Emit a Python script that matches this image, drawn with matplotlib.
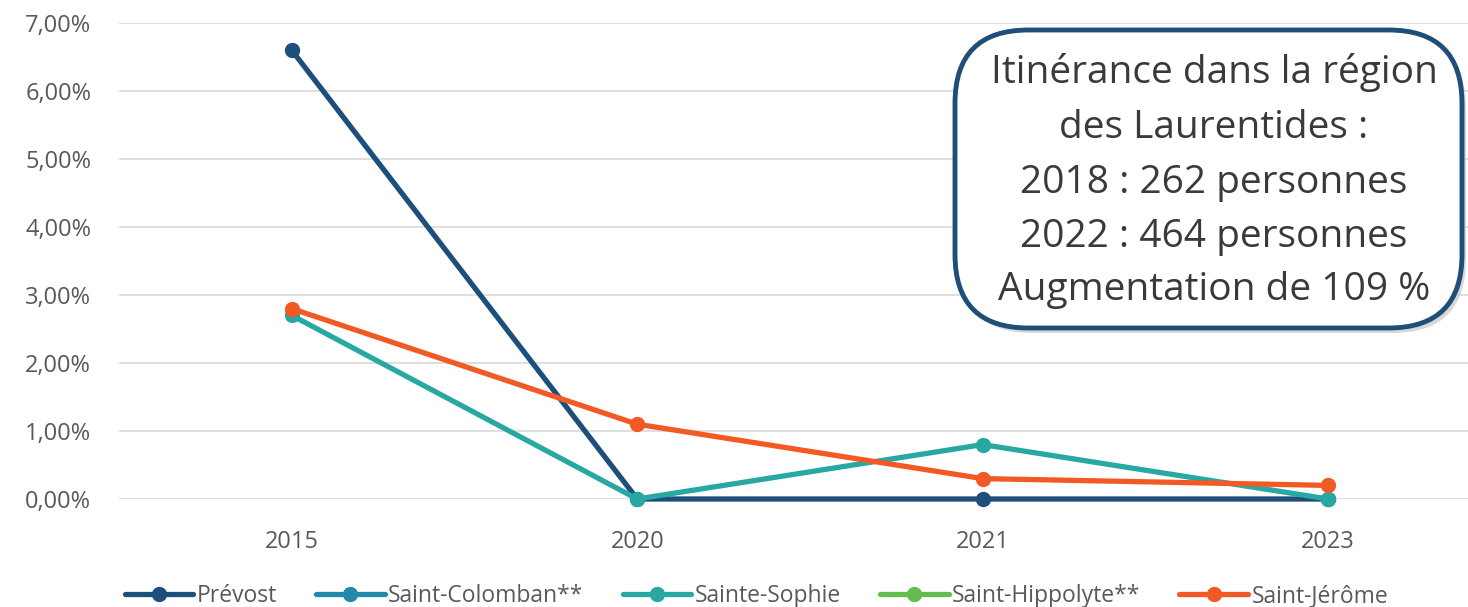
import matplotlib
matplotlib.use("Agg")
import matplotlib.pyplot as plt
import numpy as np
from matplotlib.patches import FancyBboxPatch
from matplotlib.ticker import FuncFormatter

years = ["2015", "2020", "2021", "2023"]
prevost = [6.6, 0.0, 0.0, 0.0]
saint_colomban = [np.nan, np.nan, np.nan, np.nan]
sainte_sophie = [2.7, 0.0, 0.8, 0.0]
saint_hippolyte = [np.nan, np.nan, np.nan, np.nan]
saint_jerome = [2.8, 1.1, 0.3, 0.2]

series = [
    ("Prévost", prevost, "#1d4f7c"),
    ("Saint-Colomban**", saint_colomban, "#2389a8"),
    ("Sainte-Sophie", sainte_sophie, "#27a8a3"),
    ("Saint-Hippolyte**", saint_hippolyte, "#63bd4f"),
    ("Saint-Jérôme", saint_jerome, "#f15a24"),
]

box_lines = ["Itinérance dans la région", "des Laurentides :",
             "2018 : 262 personnes", "2022 : 464 personnes",
             "Augmentation de 109 %"]

plt.rcParams['font.family'] = ['Open Sans', 'DejaVu Sans']

W, H = 1468, 607
fig = plt.figure(figsize=(W / 100, H / 100), dpi=100)
left, right = 119, 1501
top, bottom = 23, 499
ax = fig.add_axes([left / W, (H - bottom) / H, (right - left) / W, (bottom - top) / H])

x = np.arange(len(years))
for name, vals, col in series:
    ax.plot(x, vals, color=col, lw=3.8, marker='o', ms=10, label=name,
            solid_capstyle='round', zorder=3, clip_on=False)

ax.set_xlim(-0.5, len(years) - 0.5)
ax.set_ylim(0, 7)
ax.set_yticks(np.arange(0, 8, 1))
ax.yaxis.set_major_formatter(FuncFormatter(lambda v, p: f"{v:.2f}".replace('.', ',') + "%"))
ax.set_xticks(x)
ax.set_xticklabels(years)
ax.grid(axis='y', color='#d9d9d9', lw=1.2, zorder=0)
ax.set_axisbelow(True)
for s in ax.spines.values():
    s.set_visible(False)
ax.tick_params(axis='both', length=0, labelsize=17, labelcolor='#595959')
ax.tick_params(axis='y', pad=20)
ax.tick_params(axis='x', pad=22)

leg = fig.legend(loc='center left', bbox_to_anchor=(104 / W, 1 - 596 / H), ncol=5, frameon=False,
                 handlelength=3.0, columnspacing=1.7, handletextpad=0.15,
                 prop={'family': ['Open Sans', 'DejaVu Sans'], 'size': 16.5})
for t in leg.get_texts():
    t.set_color('#595959')

# text box with shadow
bx0, by0, bx1, by1 = 955, 30, 1462, 328
shadow = FancyBboxPatch(((bx0 + 4) / W, 1 - (by1 + 5) / H), (bx1 - bx0) / W, (by1 - by0) / H,
                        boxstyle="round,pad=0,rounding_size=0.05", transform=fig.transFigure,
                        facecolor='#bfbfbf', edgecolor='none', lw=0, zorder=9,
                        mutation_aspect=W / H, alpha=0.6)
fig.patches.append(shadow)
box = FancyBboxPatch((bx0 / W, 1 - by1 / H), (bx1 - bx0) / W, (by1 - by0) / H,
                     boxstyle="round,pad=0,rounding_size=0.05", transform=fig.transFigure,
                     facecolor='white', edgecolor='#1f4e79', lw=3.5, zorder=10,
                     mutation_aspect=W / H)
fig.patches.append(box)
ys = [73, 128, 183, 237, 290]
for line, yy in zip(box_lines, ys):
    fig.text(1214 / W, 1 - yy / H, line, ha='center', va='center', fontsize=28,
             color='#3a3a3a', zorder=11)

fig.savefig("out.png", dpi=100)
